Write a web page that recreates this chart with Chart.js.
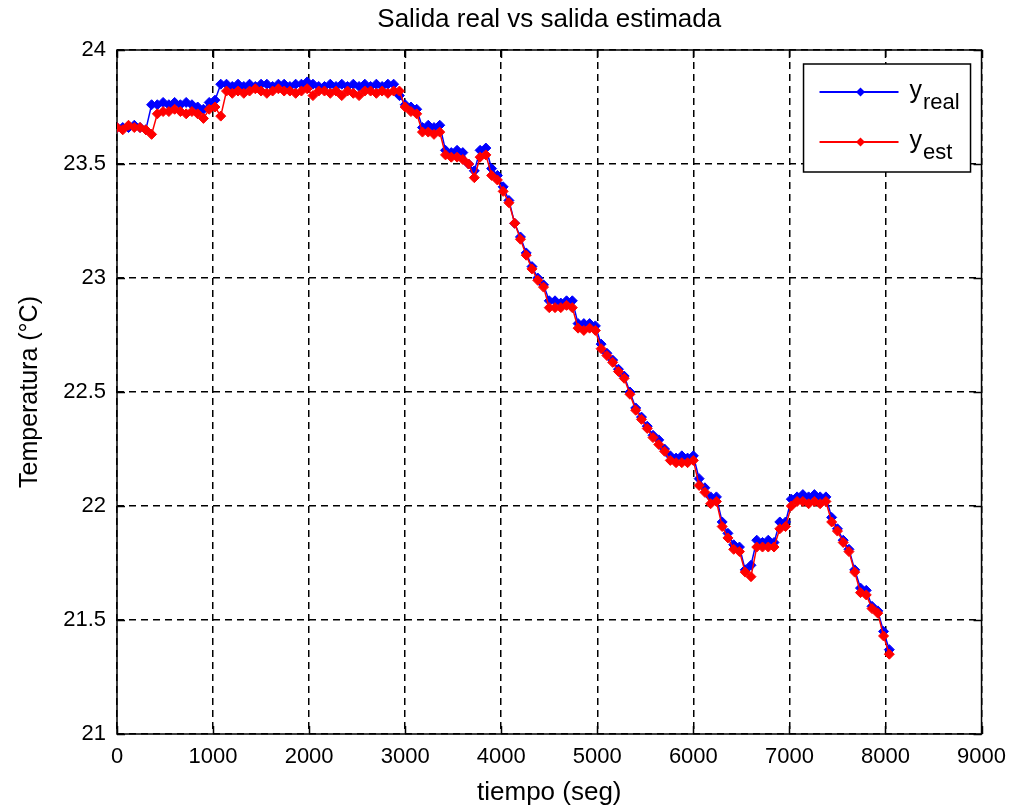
<!DOCTYPE html>
<html>
<head>
<meta charset="utf-8">
<title>Salida real vs salida estimada</title>
<script src="https://cdn.jsdelivr.net/npm/chart.js@4.4.1/dist/chart.umd.min.js"></script>
<style>
  html, body { margin: 0; padding: 0; background: #fff; }
  #wrap { width: 1016px; height: 810px; }
</style>
</head>
<body>
<div id="wrap"><canvas id="chart" width="1016" height="810"></canvas></div>
<script>
// Sampling instants (s)
const tiempo = [
  0, 60, 120, 180, 240, 300, 360, 420, 480, 540,
  600, 660, 720, 780, 840, 900, 960, 1020, 1080, 1140,
  1200, 1260, 1320, 1380, 1440, 1500, 1560, 1620, 1680, 1740,
  1800, 1860, 1920, 1980, 2040, 2100, 2160, 2220, 2280, 2340,
  2400, 2460, 2520, 2580, 2640, 2700, 2760, 2820, 2880, 2940,
  3000, 3060, 3120, 3180, 3240, 3300, 3360, 3420, 3480, 3540,
  3600, 3660, 3720, 3780, 3840, 3900, 3960, 4020, 4080, 4140,
  4200, 4260, 4320, 4380, 4440, 4500, 4560, 4620, 4680, 4740,
  4800, 4860, 4920, 4980, 5040, 5100, 5160, 5220, 5280, 5340,
  5400, 5460, 5520, 5580, 5640, 5700, 5760, 5820, 5880, 5940,
  6000, 6060, 6120, 6180, 6240, 6300, 6360, 6420, 6480, 6540,
  6600, 6660, 6720, 6780, 6840, 6900, 6960, 7020, 7080, 7140,
  7200, 7260, 7320, 7380, 7440, 7500, 7560, 7620, 7680, 7740,
  7800, 7860, 7920, 7980, 8040
];

// Measured temperature (°C)
const yReal = [
  23.66, 23.66, 23.66, 23.67, 23.66, 23.65, 23.76, 23.76, 23.77, 23.76,
  23.77, 23.76, 23.77, 23.76, 23.75, 23.74, 23.77, 23.78, 23.85, 23.85,
  23.84, 23.85, 23.84, 23.85, 23.84, 23.85, 23.85, 23.84, 23.85, 23.85,
  23.84, 23.85, 23.85, 23.86, 23.85, 23.84, 23.84, 23.85, 23.84, 23.85,
  23.84, 23.85, 23.84, 23.85, 23.84, 23.85, 23.84, 23.85, 23.85, 23.80,
  23.76, 23.75, 23.74, 23.66, 23.67, 23.66, 23.67, 23.56, 23.55, 23.56,
  23.55, 23.50, 23.47, 23.56, 23.57, 23.48, 23.45, 23.40, 23.34, 23.24,
  23.18, 23.11, 23.05, 23.00, 22.97, 22.90, 22.90, 22.89, 22.90, 22.90,
  22.80, 22.80, 22.80, 22.79, 22.71, 22.67, 22.64, 22.60, 22.57, 22.50,
  22.43, 22.39, 22.35, 22.31, 22.29, 22.25, 22.22, 22.21, 22.22, 22.21,
  22.22, 22.12, 22.08, 22.04, 22.04, 21.93, 21.88, 21.83, 21.82, 21.72,
  21.74, 21.85, 21.84, 21.85, 21.84, 21.93, 21.93, 22.03, 22.04, 22.05,
  22.04, 22.05, 22.04, 22.04, 21.95, 21.90, 21.85, 21.81, 21.72, 21.64,
  21.63, 21.56, 21.54, 21.45, 21.37
];

// Estimated temperature (°C)
const yEst = [
  23.66, 23.65, 23.67, 23.66, 23.66, 23.65, 23.63, 23.72, 23.73, 23.73,
  23.74, 23.73, 23.72, 23.73, 23.72, 23.70, 23.74, 23.75, 23.71, 23.82,
  23.81, 23.82, 23.81, 23.82, 23.83, 23.82, 23.81, 23.82, 23.83, 23.82,
  23.82, 23.81, 23.82, 23.83, 23.80, 23.82, 23.82, 23.81, 23.82, 23.80,
  23.82, 23.81, 23.80, 23.82, 23.82, 23.81, 23.82, 23.81, 23.82, 23.82,
  23.75, 23.73, 23.72, 23.64, 23.64, 23.63, 23.64, 23.54, 23.53, 23.53,
  23.52, 23.50, 23.44, 23.53, 23.54, 23.45, 23.43, 23.38, 23.33, 23.24,
  23.17, 23.10, 23.04, 22.99, 22.96, 22.87, 22.87, 22.87, 22.88, 22.87,
  22.78, 22.77, 22.78, 22.77, 22.69, 22.66, 22.63, 22.59, 22.56, 22.49,
  22.42, 22.38, 22.34, 22.30, 22.27, 22.24, 22.20, 22.19, 22.19, 22.19,
  22.20, 22.09, 22.06, 22.01, 22.02, 21.91, 21.86, 21.81, 21.80, 21.71,
  21.69, 21.82, 21.82, 21.82, 21.82, 21.90, 21.91, 22.00, 22.02, 22.02,
  22.01, 22.02, 22.01, 22.02, 21.93, 21.89, 21.84, 21.80, 21.71, 21.62,
  21.61, 21.55, 21.53, 21.43, 21.35
];

// Axis ticks
const xTicks = [0, 1000, 2000, 3000, 4000, 5000, 6000, 7000, 8000, 9000];
const yTicks = [21, 21.5, 22, 22.5, 23, 23.5, 24];

const FONT = "'Liberation Sans', Arial, Helvetica, sans-serif";
const BLUE = '#0000ff';
const RED = '#ff0000';

const toPoints = (ys) => tiempo.map((t, i) => ({ x: t, y: ys[i] }));

// Solid frame and inward tick marks, drawn over the dashed grid
const framePlugin = {
  id: 'frame',
  beforeDatasetsDraw(chart) {
    const { ctx, chartArea: a, scales } = chart;
    const tickLen = 8;
    ctx.save();
    ctx.strokeStyle = '#000';
    ctx.lineWidth = 1.5;
    ctx.setLineDash([]);
    ctx.beginPath();
    xTicks.forEach(v => {
      const px = Math.round(scales.x.getPixelForValue(v)) + 0.5;
      ctx.moveTo(px, a.bottom); ctx.lineTo(px, a.bottom - tickLen);
      ctx.moveTo(px, a.top); ctx.lineTo(px, a.top + tickLen);
    });
    yTicks.forEach(v => {
      const py = Math.round(scales.y.getPixelForValue(v)) + 0.5;
      ctx.moveTo(a.left, py); ctx.lineTo(a.left + tickLen, py);
      ctx.moveTo(a.right, py); ctx.lineTo(a.right - tickLen, py);
    });
    ctx.stroke();
    ctx.strokeRect(a.left, a.top, a.right - a.left, a.bottom - a.top);
    ctx.restore();
  }
};

// Legend box with subscripted labels
const legendPlugin = {
  id: 'subLegend',
  afterDraw(chart) {
    const { ctx, chartArea: a } = chart;
    const w = 167, h = 108;
    const left = a.right - 11 - w;
    const top = a.top + 14;
    ctx.save();
    ctx.fillStyle = '#fff';
    ctx.fillRect(left, top, w, h);
    ctx.strokeStyle = '#000';
    ctx.lineWidth = 1.5;
    ctx.strokeRect(left, top, w, h);
    const rows = [
      { color: BLUE, main: 'y', sub: 'real', y: top + 28 },
      { color: RED, main: 'y', sub: 'est', y: top + 78 }
    ];
    rows.forEach(r => {
      ctx.strokeStyle = r.color;
      ctx.fillStyle = r.color;
      ctx.lineWidth = 1.8;
      ctx.beginPath();
      ctx.moveTo(left + 16, r.y);
      ctx.lineTo(left + 95, r.y);
      ctx.stroke();
      const mx = left + 57, rr = 4.5;
      ctx.beginPath();
      ctx.moveTo(mx, r.y - rr); ctx.lineTo(mx + rr, r.y);
      ctx.lineTo(mx, r.y + rr); ctx.lineTo(mx - rr, r.y);
      ctx.closePath();
      ctx.fill();
      ctx.fillStyle = '#000';
      ctx.textBaseline = 'alphabetic';
      ctx.textAlign = 'left';
      ctx.font = '25px ' + FONT;
      const tx = left + 106;
      ctx.fillText(r.main, tx, r.y + 6);
      const mw = ctx.measureText(r.main).width;
      ctx.font = '22px ' + FONT;
      ctx.fillText(r.sub, tx + mw + 1, r.y + 17);
    });
    ctx.restore();
  }
};

new Chart(document.getElementById('chart'), {
  type: 'line',
  data: {
    datasets: [
      {
        label: 'y_real',
        data: toPoints(yReal),
        borderColor: BLUE,
        backgroundColor: BLUE,
        pointBackgroundColor: BLUE,
        pointBorderColor: BLUE,
        borderWidth: 1.5,
        pointStyle: 'rectRot',
        pointRadius: 5,
        pointBorderWidth: 1,
        tension: 0,
        order: 2
      },
      {
        label: 'y_est',
        data: toPoints(yEst),
        borderColor: RED,
        backgroundColor: RED,
        pointBackgroundColor: RED,
        pointBorderColor: RED,
        borderWidth: 1.5,
        pointStyle: 'rectRot',
        pointRadius: 5,
        pointBorderWidth: 1,
        tension: 0,
        order: 1
      }
    ]
  },
  options: {
    responsive: false,
    animation: false,
    devicePixelRatio: 1,
    layout: { padding: { left: 0, right: 31, top: 0, bottom: 0 } },
    plugins: {
      legend: { display: false },
      tooltip: { enabled: false },
      title: {
        display: true,
        fullSize: false,
        text: 'Salida real vs salida estimada',
        color: '#000',
        font: { family: FONT, size: 26, weight: 'normal' },
        padding: { top: 4, bottom: 14.8 }
      }
    },
    scales: {
      x: {
        type: 'linear',
        min: 0,
        max: 9000,
        afterBuildTicks(s) { s.ticks = xTicks.map(v => ({ value: v })); },
        afterFit(s) { s.height = 76; },
        ticks: {
          color: '#000',
          padding: 10,
          maxRotation: 0,
          font: { family: FONT, size: 22 },
          callback: (v) => String(v)
        },
        grid: { color: '#000', lineWidth: 1.5, drawTicks: false },
        border: { display: false, dash: [7, 5] },
        title: {
          display: true,
          text: 'tiempo (seg)',
          color: '#000',
          font: { family: FONT, size: 26 },
          padding: { top: 0, bottom: 2 }
        }
      },
      y: {
        type: 'linear',
        min: 21,
        max: 24,
        afterBuildTicks(s) { s.ticks = yTicks.map(v => ({ value: v })); },
        afterFit(s) { s.width = 117; },
        ticks: {
          color: '#000',
          padding: 11,
          font: { family: FONT, size: 22 },
          callback: (v) => String(v)
        },
        grid: { color: '#000', lineWidth: 1.5, drawTicks: false },
        border: { display: false, dash: [7, 5] },
        title: {
          display: true,
          text: 'Temperatura (°C)',
          color: '#000',
          font: { family: FONT, size: 25 },
          padding: { top: 15, bottom: 0 }
        }
      }
    }
  },
  plugins: [framePlugin, legendPlugin]
});
</script>
</body>
</html>
